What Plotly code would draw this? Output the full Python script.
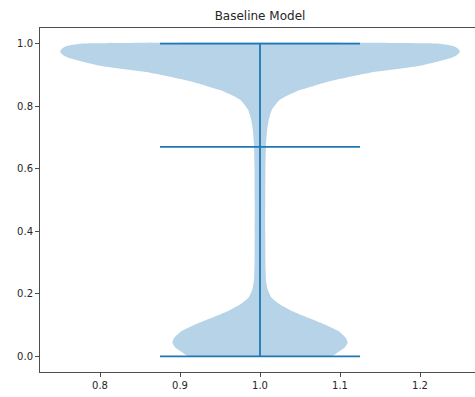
import plotly.graph_objects as go

# Violin profile: y values and half-widths (x units)
profile_y = [0.0, 0.014, 0.028, 0.044, 0.060, 0.081, 0.102, 0.1235, 0.145, 0.166,
             0.1875, 0.214, 0.246, 0.31, 0.4, 0.5, 0.6, 0.68, 0.725, 0.757,
             0.789, 0.821, 0.848, 0.880, 0.907, 0.929, 0.953, 0.964, 0.974, 0.984,
             0.993, 1.0]
profile_hw = [0.09, 0.098, 0.106, 0.1096, 0.107, 0.098, 0.081, 0.060, 0.040, 0.025,
              0.0146, 0.0096, 0.0075, 0.0068, 0.0066, 0.0066, 0.0068, 0.0075, 0.009, 0.011,
              0.015, 0.025, 0.046, 0.0875, 0.1375, 0.200, 0.2375, 0.2465, 0.25, 0.2475,
              0.241, 0.225]

position = 1.0
stat_min = 0.0
stat_max = 1.0
stat_mean = 0.67
cap_half = 0.125

x_ticks = [0.8, 0.9, 1.0, 1.1, 1.2]
y_ticks = [0.0, 0.2, 0.4, 0.6, 0.8, 1.0]

C0 = "#1f77b4"

left_x = [position - h for h in profile_hw]
right_x = [position + h for h in profile_hw]
body_x = left_x + right_x[::-1]
body_y = profile_y + profile_y[::-1]

fig = go.Figure()
fig.add_trace(go.Scatter(
    x=body_x, y=body_y, mode="lines", fill="toself",
    fillcolor="rgba(31,119,180,0.32)",
    line=dict(color="rgba(31,119,180,0.0)", width=0, shape="spline", smoothing=0.5),
    hoverinfo="skip", showlegend=False))

# central bar
fig.add_trace(go.Scatter(x=[position, position], y=[stat_min, stat_max], mode="lines",
                         line=dict(color=C0, width=1.8), showlegend=False))
# caps and mean line
for v in [stat_min, stat_mean, stat_max]:
    fig.add_trace(go.Scatter(x=[position - cap_half, position + cap_half], y=[v, v], mode="lines",
                             line=dict(color=C0, width=1.8), showlegend=False))

fig.update_layout(
    width=475, height=397,
    margin=dict(l=40, r=0, t=28, b=25),
    paper_bgcolor="white", plot_bgcolor="white",
    font=dict(family="DejaVu Sans", size=10, color="#262626"),
    title=dict(text="Baseline Model", x=260/475, xanchor="center", xref="container",
               y=1 - 16/397, yanchor="middle", yref="container",
               font=dict(size=12, color="#262626")),
    showlegend=False,
)
fig.update_xaxes(range=[0.725, 0.725 + 435/800], tickvals=x_ticks, tickformat=".1f",
                 showgrid=False, zeroline=False, showline=True, mirror=True,
                 linecolor="#4d4d4d", linewidth=1, ticks="outside", ticklen=4,
                 tickcolor="#4d4d4d", tickwidth=1)
fig.update_yaxes(range=[-0.05, 1.05], tickvals=y_ticks, tickformat=".1f",
                 showgrid=False, zeroline=False, showline=True, mirror=False,
                 linecolor="#4d4d4d", linewidth=1, ticks="outside", ticklen=4,
                 tickcolor="#4d4d4d", tickwidth=1)

fig.write_html("out.html")
